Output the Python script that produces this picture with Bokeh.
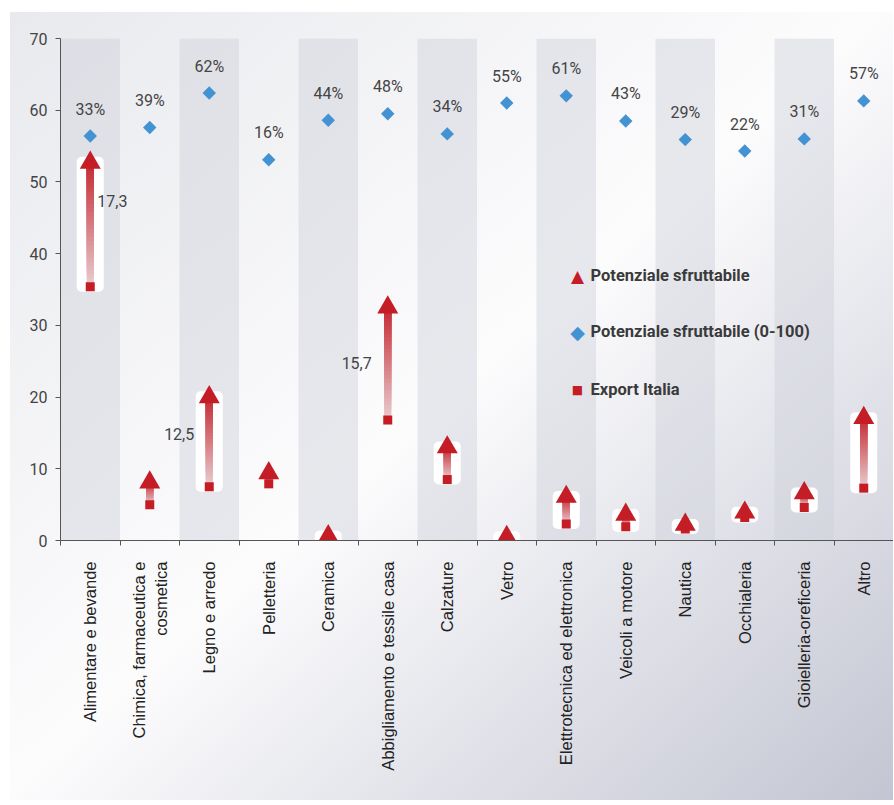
import numpy as np
from bokeh.plotting import figure
from bokeh.models import Range1d, FixedTicker, ColumnDataSource, Label
from bokeh.embed import file_html
from bokeh.resources import INLINE
from bokeh.core.properties import value

# ---------------- data ----------------
categories = [
    "Alimentare e bevande",
    "Chimica, farmaceutica e\ncosmetica",
    "Legno e arredo",
    "Pelletteria",
    "Ceramica",
    "Abbigliamento e tessile casa",
    "Calzature",
    "Vetro",
    "Elettrotecnica ed elettronica",
    "Veicoli a motore",
    "Nautica",
    "Occhialeria",
    "Gioielleria-oreficeria",
    "Altro",
]
export_italia = [35.4, 5.0, 7.5, 7.9, 0.2, 16.8, 8.5, 0.1, 2.3, 1.9, 1.6, 3.2, 4.6, 7.3]
potenziale = [52.7, 8.1, 20.0, 9.4, 0.6, 32.5, 13.0, 0.5, 6.1, 3.6, 2.2, 3.9, 6.6, 17.1]
potenziale_100 = [56.4, 57.6, 62.4, 53.1, 58.6, 59.5, 56.7, 61.0, 62.0, 58.5, 55.9, 54.3, 56.0, 61.3]
pct_labels = ["33%", "39%", "62%", "16%", "44%", "48%", "34%", "55%", "61%", "43%", "29%", "22%", "31%", "57%"]
boxed = [0, 2, 4, 6, 7, 8, 9, 10, 11, 12, 13]
gap_idx = [0, 2, 5]
y_ticks = [0, 10, 20, 30, 40, 50, 60, 70]
legend_labels = ["Potenziale sfruttabile", "Potenziale sfruttabile (0-100)", "Export Italia"]

n = len(categories)
xc = [i + 0.5 for i in range(n)]
red = "#c41d25"
blue = "#4393d3"

# ---------------- figure ----------------
p = figure(
    width=893, height=800,
    x_range=Range1d(0, n), y_range=Range1d(0, 70),
    output_backend="svg", toolbar_location=None,
    min_border_left=60, min_border_right=0, min_border_top=38, min_border_bottom=260,
)
p.styles = {
    "background-image": "linear-gradient(to bottom right, #e8e9ed 0%, #fcfcfd 50%, #c3c5d2 100%)",
    "box-shadow": "inset 10px 12px 0 0 #ffffff",
}
p.border_fill_alpha = 0
p.background_fill_alpha = 0
p.outline_line_color = None
p.grid.visible = False

# alternating bands
band_left = [i for i in range(0, n, 2)]
p.quad(left=band_left, right=[b + 1 for b in band_left], bottom=0, top=70,
       fill_color="#cfd1da", fill_alpha=0.45, line_color=None)

# white highlight boxes
p.quad(left=[xc[i] - 0.227 for i in boxed], right=[xc[i] + 0.227 for i in boxed],
       bottom=[export_italia[i] - 0.7 for i in boxed], top=[potenziale[i] + 0.8 for i in boxed],
       fill_color="#ffffff", line_color=None, border_radius=5)

# gradient arrow shafts (stacked, each segment reaching the arrow head -> no seams)
nseg = 30
c0 = np.array([0xe8, 0xcb, 0xcf], dtype=float)
c1 = np.array([0xc4, 0x26, 0x2e], dtype=float)
sl, sr, sb, st, scol = [], [], [], [], []
for i in range(n):
    lo, hi = export_italia[i], potenziale[i]
    for k in range(nseg):
        t0 = k / nseg
        sl.append(xc[i] - 0.058)
        sr.append(xc[i] + 0.058)
        sb.append(lo + (hi - lo) * t0)
        st.append(hi)
        c = c0 + (c1 - c0) * t0
        scol.append("#%02x%02x%02x" % tuple(int(round(v)) for v in c))
p.quad(left=sl, right=sr, bottom=sb, top=st, fill_color=scol, line_color=None)

sq = p.scatter(x=xc, y=export_italia, marker="square", size=9, fill_color=red, line_color=None)
tri = p.scatter(x=xc, y=potenziale, marker="triangle", size=21, fill_color=red, line_color=None)
dia = p.scatter(x=xc, y=potenziale_100, marker="square", angle=np.pi / 4, size=9.5,
                fill_color=blue, line_color=None)

# percentage labels
p.text(x=xc, y=potenziale_100, text=pct_labels, y_offset=-27,
       text_align="center", text_baseline="middle",
       text_font=value("Roboto"), text_font_size="16px", text_color="#444444")

# gap labels
gap_src = ColumnDataSource(dict(
    x=[xc[i] for i in gap_idx],
    y=[(export_italia[i] + potenziale[i]) / 2 for i in gap_idx],
    text=[("%.1f" % (potenziale[i] - export_italia[i])).replace(".", ",") for i in gap_idx],
    xo=[7, -15, -16],
    yo=[-24, -8, -1],
    al=["left", "right", "right"],
))
p.text(x="x", y="y", text="text", x_offset="xo", y_offset="yo", text_align="al",
       text_baseline="middle", source=gap_src,
       text_font=value("Roboto"), text_font_size="16px", text_color="#444444")

# axes
ax = p.xaxis[0]
ax.ticker = FixedTicker(ticks=xc, minor_ticks=list(range(n + 1)))
ax.major_label_overrides = {xc[i]: categories[i] for i in range(n)}
ax.major_label_orientation = np.pi / 2
ax.major_tick_out = 0
ax.major_tick_in = 0
ax.minor_tick_out = 5
ax.minor_tick_in = 0
ax.axis_line_color = "#555555"
ax.minor_tick_line_color = "#555555"
ax.major_label_standoff = 16
ax.major_label_text_font = "Liberation Sans"
ax.major_label_text_font_size = "16.5px"
ax.major_label_text_color = "#222222"

ay = p.yaxis[0]
ay.ticker = FixedTicker(ticks=y_ticks)
ay.major_tick_out = 5
ay.major_tick_in = 0
ay.minor_tick_out = 0
ay.minor_tick_in = 0
ay.axis_line_color = "#555555"
ay.major_tick_line_color = "#555555"
ay.major_label_standoff = 8
ay.major_label_text_font = "Roboto"
ay.major_label_text_font_size = "16px"
ay.major_label_text_color = "#444444"

# legend (screen units, relative to the plot frame)
leg_y = [265, 209, 151]
leg_sym = ["\u25B2", "\u25C6", "\u25A0"]
leg_col = [red, blue, red]
leg_size = ["17px", "19px", "12px"]
for k in range(3):
    p.add_layout(Label(x=517, y=leg_y[k], x_units="screen", y_units="screen",
                       text=leg_sym[k], text_color=leg_col[k], text_font="DejaVu Sans",
                       text_font_size=leg_size[k], text_align="center", text_baseline="middle"))
    p.add_layout(Label(x=530, y=leg_y[k], x_units="screen", y_units="screen",
                       text=legend_labels[k], text_color="#3a3a3a", text_font="Roboto",
                       text_font_style="bold", text_font_size="16.5px",
                       text_align="left", text_baseline="middle"))

open("out.html", "w").write(file_html(p, INLINE))
